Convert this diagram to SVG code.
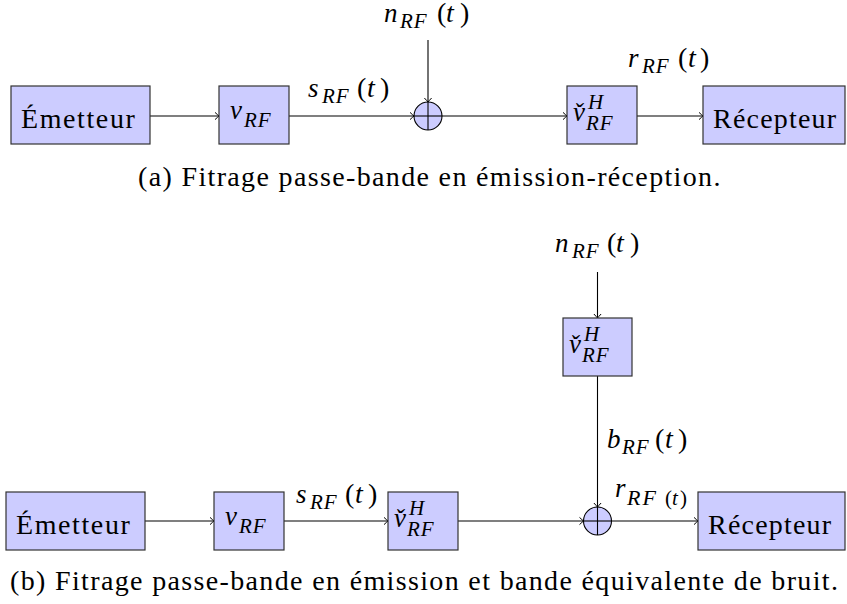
<svg xmlns="http://www.w3.org/2000/svg" width="847" height="604" viewBox="0 0 847 604">
<style>
.nbox{fill:#ccccff;stroke:#333;stroke-width:1.2}
.conn{fill:none;stroke:#000;stroke-width:1.1}
.head{fill:none;stroke:#000;stroke-width:1}
</style>
<rect width="847" height="604" fill="#fff"/>

<g id="connectors">
<line class="conn" x1="150" y1="116" x2="219" y2="116"/>
<path class="head" d="M215 112.4 Q217.8 115 219 116 Q217.8 117 215 119.6"/>
<line class="conn" x1="289" y1="116" x2="414" y2="116"/>
<path class="head" d="M410 112.4 Q412.8 115 414 116 Q412.8 117 410 119.6"/>
<line class="conn" x1="428" y1="40" x2="428" y2="102"/>
<path class="head" d="M424.4 98 Q427 100.8 428 102 Q429 100.8 431.6 98"/>
<line class="conn" x1="442" y1="116" x2="567" y2="116"/>
<path class="head" d="M563 112.4 Q565.8 115 567 116 Q565.8 117 563 119.6"/>
<line class="conn" x1="637" y1="116" x2="703" y2="116"/>
<path class="head" d="M699 112.4 Q701.8 115 703 116 Q701.8 117 699 119.6"/>
<line class="conn" x1="145" y1="521" x2="214" y2="521"/>
<path class="head" d="M210 517.4 Q212.8 520 214 521 Q212.8 522 210 524.6"/>
<line class="conn" x1="284" y1="521" x2="388" y2="521"/>
<path class="head" d="M384 517.4 Q386.8 520 388 521 Q386.8 522 384 524.6"/>
<line class="conn" x1="458" y1="521" x2="583.5" y2="521"/>
<path class="head" d="M579.5 517.4 Q582.3 520 583.5 521 Q582.3 522 579.5 524.6"/>
<line class="conn" x1="597.5" y1="272" x2="597.5" y2="318"/>
<path class="head" d="M593.9 314 Q596.5 316.8 597.5 318 Q598.5 316.8 601.1 314"/>
<line class="conn" x1="597.5" y1="376" x2="597.5" y2="507"/>
<path class="head" d="M593.9 503 Q596.5 505.8 597.5 507 Q598.5 505.8 601.1 503"/>
<line class="conn" x1="611.5" y1="521" x2="698" y2="521"/>
<path class="head" d="M694 517.4 Q696.8 520 698 521 Q696.8 522 694 524.6"/>
</g>

<g id="a-emetteur">
<rect class="nbox" x="11" y="86" width="139" height="58"/>
<text font-family="Liberation Serif" font-size="28" letter-spacing="1.6" x="21" y="128">Émetteur</text>
</g>
<g id="a-vrf">
<rect class="nbox" x="219" y="86" width="70" height="58"/>
<text font-family="Liberation Serif" font-size="27" font-style="italic" x="230" y="119">v</text>
<text font-family="Liberation Serif" font-size="21" font-style="italic" letter-spacing="1" x="244" y="127">RF</text>
</g>
<g id="a-sum">
<circle cx="428" cy="116" r="14" fill="#ccccff" stroke="#000" stroke-width="1.1"/>
<line class="conn" x1="414" y1="116" x2="442" y2="116"/>
<line class="conn" x1="428" y1="102" x2="428" y2="130"/>
</g>
<g id="a-vcheck">
<rect class="nbox" x="567" y="86" width="70" height="58"/>
<text font-family="Liberation Serif" font-size="27" font-style="italic" x="573" y="121">v̌</text>
<text font-family="Liberation Serif" font-size="21" font-style="italic" x="588" y="109">H</text>
<text font-family="Liberation Serif" font-size="21" font-style="italic" letter-spacing="1" x="586" y="130">RF</text>
</g>
<g id="a-recepteur">
<rect class="nbox" x="703" y="86" width="142" height="58"/>
<text font-family="Liberation Serif" font-size="28" letter-spacing="1.2" x="713" y="128">Récepteur</text>
</g>
<g id="a-labels">
<text font-family="Liberation Serif" font-size="27" font-style="italic" x="384" y="22">n</text>
<text font-family="Liberation Serif" font-size="21" font-style="italic" letter-spacing="1" x="400" y="28">RF</text>
<text font-family="Liberation Serif" font-size="28" x="437" y="22">(</text>
<text font-family="Liberation Serif" font-size="28" font-style="italic" x="446" y="22">t</text>
<text font-family="Liberation Serif" font-size="28" x="460" y="22">)</text>

<text font-family="Liberation Serif" font-size="27" font-style="italic" x="308" y="97">s</text>
<text font-family="Liberation Serif" font-size="21" font-style="italic" letter-spacing="1" x="322" y="103">RF</text>
<text font-family="Liberation Serif" font-size="28" x="357" y="97">(</text>
<text font-family="Liberation Serif" font-size="28" font-style="italic" x="367" y="97">t</text>
<text font-family="Liberation Serif" font-size="28" x="380" y="97">)</text>

<text font-family="Liberation Serif" font-size="27" font-style="italic" x="628" y="67">r</text>
<text font-family="Liberation Serif" font-size="21" font-style="italic" letter-spacing="1" x="642" y="73">RF</text>
<text font-family="Liberation Serif" font-size="28" x="678" y="67">(</text>
<text font-family="Liberation Serif" font-size="28" font-style="italic" x="688" y="67">t</text>
<text font-family="Liberation Serif" font-size="28" x="700" y="67">)</text>
</g>
<text id="caption-a" font-family="Liberation Serif" font-size="28" letter-spacing="1.35" x="138" y="186">(a) Fitrage passe-bande en émission-réception.</text>

<g id="b-emetteur">
<rect class="nbox" x="6" y="492" width="139" height="58"/>
<text font-family="Liberation Serif" font-size="28" letter-spacing="1.6" x="16" y="534">Émetteur</text>
</g>
<g id="b-vrf">
<rect class="nbox" x="214" y="492" width="70" height="58"/>
<text font-family="Liberation Serif" font-size="27" font-style="italic" x="225" y="525">v</text>
<text font-family="Liberation Serif" font-size="21" font-style="italic" letter-spacing="1" x="239" y="533">RF</text>
</g>
<g id="b-vcheck">
<rect class="nbox" x="388" y="492" width="70" height="58"/>
<text font-family="Liberation Serif" font-size="27" font-style="italic" x="394" y="527">v̌</text>
<text font-family="Liberation Serif" font-size="21" font-style="italic" x="409" y="515">H</text>
<text font-family="Liberation Serif" font-size="21" font-style="italic" letter-spacing="1" x="407" y="536">RF</text>
</g>
<g id="b-vcheck-noise">
<rect class="nbox" x="563" y="318" width="69" height="58"/>
<text font-family="Liberation Serif" font-size="27" font-style="italic" x="569" y="353">v̌</text>
<text font-family="Liberation Serif" font-size="21" font-style="italic" x="584" y="341">H</text>
<text font-family="Liberation Serif" font-size="21" font-style="italic" letter-spacing="1" x="582" y="362">RF</text>
</g>
<g id="b-sum">
<circle cx="597.5" cy="521" r="14" fill="#ccccff" stroke="#000" stroke-width="1.1"/>
<line class="conn" x1="583.5" y1="521" x2="611.5" y2="521"/>
<line class="conn" x1="597.5" y1="507" x2="597.5" y2="535"/>
</g>
<g id="b-recepteur">
<rect class="nbox" x="698" y="492" width="147" height="58"/>
<text font-family="Liberation Serif" font-size="28" letter-spacing="1.2" x="708" y="534">Récepteur</text>
</g>
<g id="b-labels">
<text font-family="Liberation Serif" font-size="27" font-style="italic" x="555" y="252">n</text>
<text font-family="Liberation Serif" font-size="21" font-style="italic" letter-spacing="1" x="572" y="258">RF</text>
<text font-family="Liberation Serif" font-size="28" x="607" y="252">(</text>
<text font-family="Liberation Serif" font-size="28" font-style="italic" x="616" y="252">t</text>
<text font-family="Liberation Serif" font-size="28" x="630" y="252">)</text>

<text font-family="Liberation Serif" font-size="27" font-style="italic" x="607" y="448">b</text>
<text font-family="Liberation Serif" font-size="21" font-style="italic" letter-spacing="1" x="622" y="454">RF</text>
<text font-family="Liberation Serif" font-size="28" x="655" y="448">(</text>
<text font-family="Liberation Serif" font-size="28" font-style="italic" x="665" y="448">t</text>
<text font-family="Liberation Serif" font-size="28" x="678" y="448">)</text>

<text font-family="Liberation Serif" font-size="27" font-style="italic" x="296" y="503">s</text>
<text font-family="Liberation Serif" font-size="21" font-style="italic" letter-spacing="1" x="310" y="509">RF</text>
<text font-family="Liberation Serif" font-size="28" x="345" y="503">(</text>
<text font-family="Liberation Serif" font-size="28" font-style="italic" x="355" y="503">t</text>
<text font-family="Liberation Serif" font-size="28" x="368" y="503">)</text>

<text font-family="Liberation Serif" font-size="27" font-style="italic" x="615" y="497">r</text>
<text font-family="Liberation Serif" font-size="22" font-style="italic" letter-spacing="2" x="627" y="505">RF</text>
<text font-family="Liberation Serif" font-size="21" x="665" y="505">(</text>
<text font-family="Liberation Serif" font-size="21" font-style="italic" x="672" y="505">t</text>
<text font-family="Liberation Serif" font-size="21" x="680" y="505">)</text>
</g>
<text id="caption-b" font-family="Liberation Serif" font-size="28" letter-spacing="1.35" x="10" y="590">(b) Fitrage passe-bande en émission et bande équivalente de bruit.</text>
</svg>
